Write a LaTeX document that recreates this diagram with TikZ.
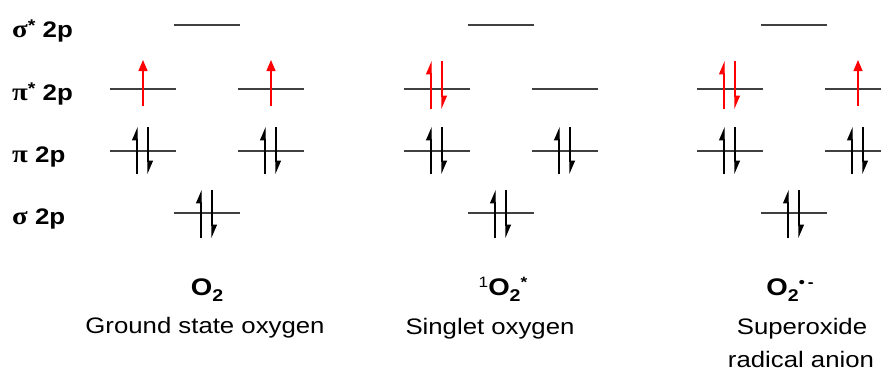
\documentclass[tikz,border=0pt]{standalone}
\usepackage{fontspec}
\setmainfont{Liberation Sans}[FakeStretch=1.15]
\newfontfamily\grk{Liberation Serif}[FakeStretch=1.15]
\usetikzlibrary{arrows.meta}
\newcommand\mysub[1]{\raisebox{-0.28em}{\fontsize{17}{17}\selectfont #1}}
\newcommand\mysup[1]{\raisebox{0.3em}{\fontsize{15}{15}\selectfont #1}}
\newcommand\labsup[1]{\raisebox{0.25em}{\fontsize{17}{17}\selectfont #1}}
\newcommand\mylev[2]{\draw[lvl] ({#1-33},#2) -- ({#1+33},#2);}
\newcommand\mysingle[3]{\draw[single] (#1,#3) -- (#1,#2);}
\newcommand\mypair[4]{%
  \draw[uph,#1] ({#2-6},#4) -- ({#2-6},#3);
  \draw[uph,#1] ({#2+5},#3) -- ({#2+5},#4);}
\begin{document}
\begin{tikzpicture}[x=1pt,y=-1pt,
  lvl/.style={line width=1.6pt,draw=black!75},
  uph/.style={line width=1.2pt,-{Triangle[harpoon,width=10pt,length=12pt]}},
  single/.style={line width=1.3pt,red,-{Triangle[width=9pt,length=11pt]}},
  lab/.style={anchor=base west,inner sep=0pt,font=\fontsize{22.5}{25}\selectfont\bfseries},
  big/.style={anchor=base,inner sep=0pt,font=\fontsize{24}{28}\selectfont\bfseries},
  desc/.style={anchor=base,inner sep=0pt,font=\fontsize{22.4}{26}\selectfont}]
\useasboundingbox (0,0) rectangle (881,383);
\begin{scope}
\clip (0,0) rectangle (881,383);
% row labels
\node[lab] (lss) at (12,37) {{\grk\fontsize{25}{25}\selectfont σ}\labsup{*} 2p};
\node[lab] (lps) at (12,100) {{\grk\fontsize{25}{25}\selectfont π}\labsup{*} 2p};
\node[lab] (lp) at (12,162) {{\grk\fontsize{25}{25}\selectfont π} 2p};
\node[lab] (ls) at (12,224) {{\grk\fontsize{25}{25}\selectfont σ} 2p};
% levels
\foreach \c in {207,501,794}{
  \mylev{\c}{25}
  \mylev{\c}{213}
  \mylev{\c-64}{89}
  \mylev{\c+64}{89}
  \mylev{\c-64}{151}
  \mylev{\c+64}{151}
  \mypair{black}{\c}{190}{238}
  \mypair{black}{\c-64}{127}{174}
  \mypair{black}{\c+64}{127}{174}
}
% pi* electrons
\mysingle{143}{60}{106}
\mysingle{271}{60}{106}
\mypair{red}{437}{61}{109}
\mypair{red}{730}{61}{109}
\mysingle{858}{60}{106}
% names
\node[big] (n1) at (207,295) {O\mysub{2}};
\node[big] (n2) at (503,295) {\mysup{\mdseries 1}O\mysub{2}\mysup{*}};
\node[big] (n3) at (790,295) {O\mysub{2}\mysup{•\hspace{3pt}-}};
\node[desc] (d1) at (205,333) {Ground state oxygen};
\node[desc] (d2) at (490,334) {Singlet oxygen};
\node[desc] (d3a) at (802,334) {Superoxide};
\node[desc] (d3b) at (801,367) {radical anion};
\end{scope}
\end{tikzpicture}
\end{document}
